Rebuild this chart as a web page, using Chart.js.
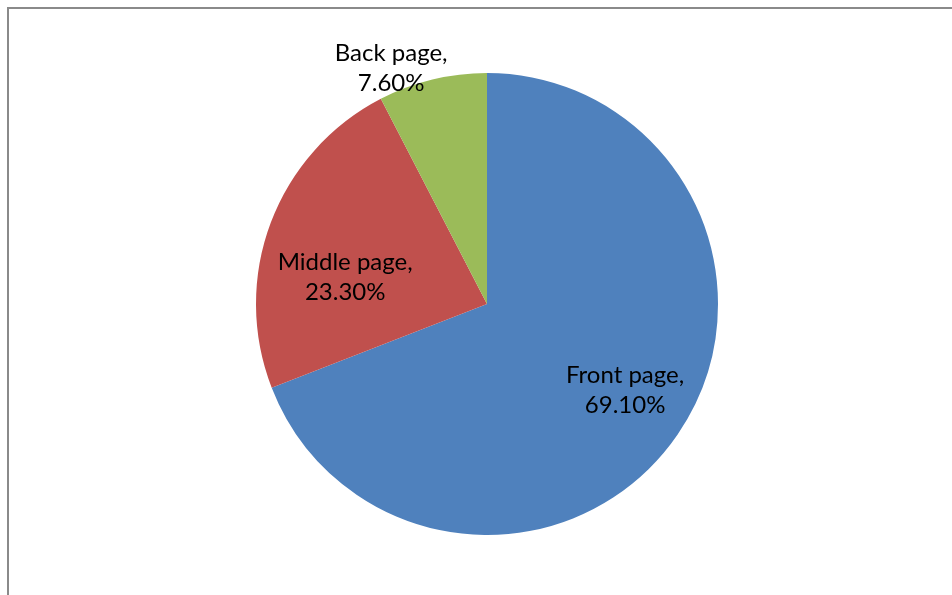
<!DOCTYPE html>
<html>
<head>
<meta charset="utf-8">
<script src="https://cdn.jsdelivr.net/npm/chart.js@4"></script>
<style>
  html, body { margin: 0; padding: 0; background: #fff; }
  #wrap { position: relative; width: 952px; height: 595px; overflow: hidden; }
  #frame { position: absolute; left: 7px; top: 7px; width: 1000px; height: 700px;
    border-left: 2px solid #8a8a8a; border-top: 2px solid #8a8a8a; }
  #myChart { position: absolute; left: 0; top: 0; }
</style>
</head>
<body>
<div id="wrap">
  <div id="frame"></div>
  <canvas id="myChart" width="952" height="595"></canvas>
</div>
<script>
// pie data
let categories = ['Front page', 'Middle page', 'Back page'];
let shares = [69.1, 23.3, 7.6];
let sliceColors = ['#4F81BD', '#C0504D', '#9BBB59'];

// where each label sits: angle (deg, clockwise from 3 o'clock) and distance as a part of the radius
let labelSpots = [
  { angle: 32, dist: 0.705 },
  { angle: 190.8, dist: 0.625 },
  { angle: 247.9, dist: 1.103 }
];

let sliceLabels = {
  id: 'sliceLabels',
  afterDatasetsDraw(chart) {
    let ctx = chart.ctx;
    let arcs = chart.getDatasetMeta(0).data;
    ctx.save();
    ctx.font = '24px Lato, "Open Sans", sans-serif';
    ctx.fillStyle = '#000';
    ctx.textAlign = 'center';
    ctx.textBaseline = 'middle';
    for (let i = 0; i < arcs.length; i++) {
      let arc = arcs[i];
      let a = labelSpots[i].angle * Math.PI / 180;
      let r = arc.outerRadius * labelSpots[i].dist;
      let x = arc.x + Math.cos(a) * r;
      let y = arc.y + Math.sin(a) * r;
      ctx.fillText(categories[i] + ',', x, y - 15);
      ctx.fillText(shares[i].toFixed(2) + '%', x, y + 15);
    }
    ctx.restore();
  }
};

let ctx = document.getElementById('myChart').getContext('2d');
let myChart = new Chart(ctx, {
  type: 'pie',
  data: {
    labels: categories,
    datasets: [{
      data: shares,
      backgroundColor: sliceColors,
      borderWidth: 0
    }]
  },
  options: {
    responsive: false,
    animation: false,
    layout: { padding: { top: 73, bottom: 60, left: 256, right: 234 } },
    plugins: {
      legend: { display: false },
      tooltip: { enabled: false }
    }
  },
  plugins: [sliceLabels]
});
</script>
</body>
</html>
